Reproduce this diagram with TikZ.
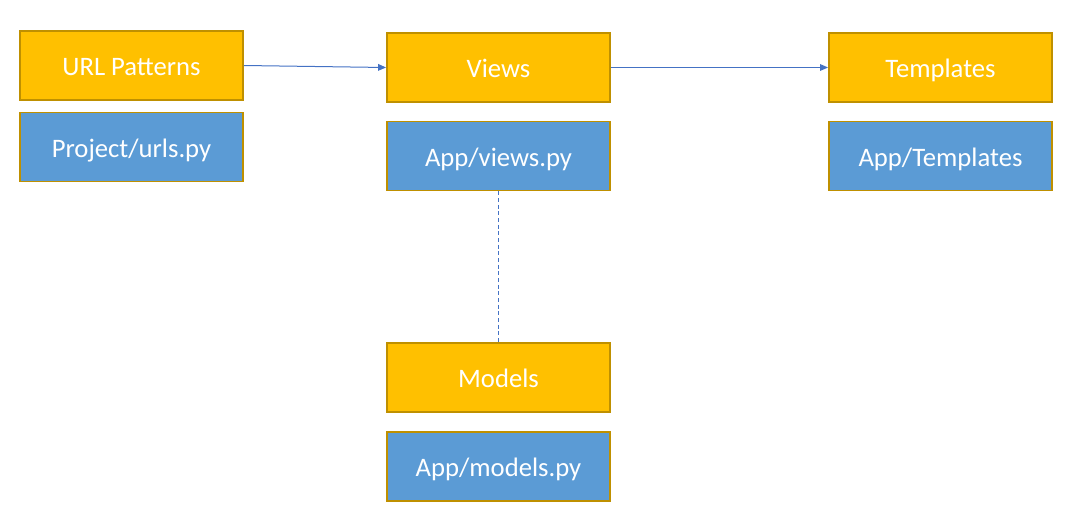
\documentclass[tikz,border=0pt]{standalone}
\usepackage{fontspec}
\setmainfont{Carlito}
\usetikzlibrary{arrows.meta}
\definecolor{org}{HTML}{FFC000}
\definecolor{blu}{HTML}{5B9BD5}
\definecolor{bord}{HTML}{BF9000}
\definecolor{lin}{HTML}{4472C4}
\begin{document}
\begin{tikzpicture}[x=0.75pt,y=-0.75pt,
  box/.style={draw=bord,line width=1.4pt,minimum width=223*0.75pt,minimum height=69*0.75pt,inner sep=0pt,text=white,font=\fontsize{20}{24}\selectfont,text height=17pt,text depth=1.5pt},
  obox/.style={box,fill=org},
  bbox/.style={box,fill=blu},
  conn/.style={draw=lin,line width=0.75pt,-{Triangle[length=6pt,width=5pt]}}]
\useasboundingbox (0,0) rectangle (1074,521);
\node[obox] (url) at (131.5,65.5) {URL Patterns};
\node[bbox] (urls) at (131.5,147) {Project/urls.py};
\node[obox] (views) at (498.5,67.5) {Views};
\node[bbox] (viewspy) at (498.5,156) {App/views.py};
\node[obox] (tmpl) at (940.5,67.5) {Templates};
\node[bbox] (tmplpy) at (940.5,156) {App/Templates};
\node[obox] (models) at (498.5,377.5) {Models};
\node[bbox] (modelspy) at (498.5,466.5) {App/models.py};
\draw[conn] (url.east) -- (views.west);
\draw[conn] (views.east) -- (tmpl.west);
\draw[draw=lin,line width=0.75pt,dash pattern=on 3pt off 2pt] (viewspy.south) -- (models.north);
\end{tikzpicture}
\end{document}
